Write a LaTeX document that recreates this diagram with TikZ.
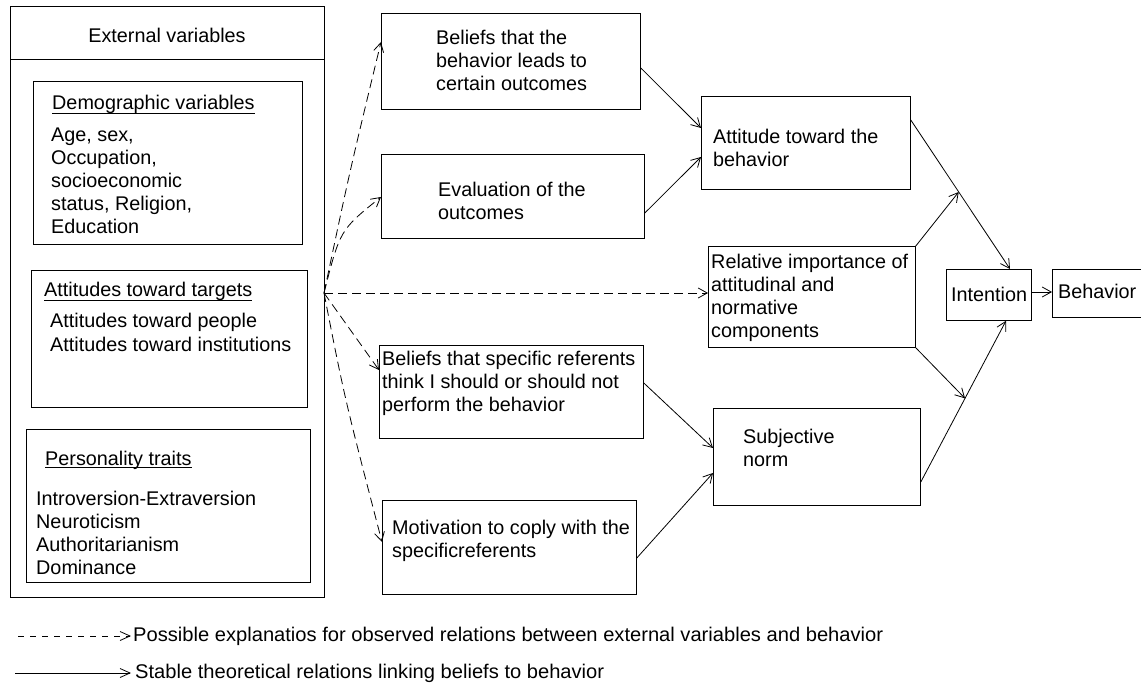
\documentclass[tikz,border=0pt]{standalone}
\usepackage{fontspec}
\setmainfont{Liberation Sans}
\usetikzlibrary{arrows.meta,calc}
\tikzset{
  box/.style={draw, line width=0.8pt, inner sep=0pt, anchor=north west},
  txt/.style={anchor=base west, inner sep=0pt, align=left, font=\fontsize{19.8}{23}\selectfont},
  ln/.style={line width=0.8pt},
  arr/.style={ln, -{Straight Barb[length=9pt,width=10pt]}},
  darr/.style={arr, dash pattern=on 9pt off 5pt},
  uline/.style={line width=0.8pt}
}
\begin{document}
\begin{tikzpicture}[x=1pt,y=-1pt]
\useasboundingbox (0,0) rectangle (1141,684);
\clip (0,0) rectangle (1141,684);
% outer box
\node[box, minimum width=314pt, minimum height=591pt] (outer) at (10,6) {};
\draw[ln] (10,59) -- (324,59);
\node[anchor=base, inner sep=0pt, font=\fontsize{19.8}{23}\selectfont] (extT) at (167,43) {External variables};
% inner boxes
\node[box, minimum width=269pt, minimum height=163pt] (demo) at (33,81) {};
\node[box, minimum width=276pt, minimum height=137pt] (atttar) at (31,270) {};
\node[box, minimum width=284pt, minimum height=153pt] (pers) at (26,429) {};
\node[txt] (demoT) at (52,110) {Demographic variables};
\draw[uline] ([yshift=-3pt]demoT.base west) -- ([yshift=-3pt]demoT.base east);
\node[txt] (demoL) at (51,234) {Age, sex,\\Occupation,\\socioeconomic\\status, Religion,\\Education};
\node[txt] (attT) at (44,297) {Attitudes toward targets};
\draw[uline] ([yshift=-3pt]attT.base west) -- ([yshift=-3pt]attT.base east);
\node[txt, font=\fontsize{19.8}{24}\selectfont] (attL) at (50,352) {Attitudes toward people\\Attitudes toward institutions};
\node[txt] (persT) at (45,465) {Personality traits};
\draw[uline] ([yshift=-2pt]persT.base west) -- ([yshift=-2pt]persT.base east);
\node[txt] (persL) at (36,574) {Introversion-Extraversion\\Neuroticism\\Authoritarianism\\Dominance};
% middle boxes
\node[box, minimum width=259pt, minimum height=96pt] (b1) at (381,13) {};
\node[txt] at (436,91) (b1T) {Beliefs that the\\behavior leads to\\certain outcomes};
\node[box, minimum width=263pt, minimum height=84pt] (ev) at (381,154) {};
\node[txt] at (438,220) (evT) {Evaluation of the\\outcomes};
\node[box, minimum width=264pt, minimum height=93pt] (b2) at (379,345) {};
\node[txt] at (382,412) (b2T) {Beliefs that specific referents\\think I should or should not\\perform the behavior};
\node[box, minimum width=254pt, minimum height=94pt] (mot) at (382,500) {};
\node[txt] at (392,557) (motT) {Motivation to coply with the\\specificreferents};
% right boxes
\node[box, minimum width=209pt, minimum height=93pt] (att) at (701,96) {};
\node[txt] at (713,167) (attbT) {Attitude toward the\\behavior};
\node[box, minimum width=207pt, minimum height=101pt] (rel) at (708,246) {};
\node[txt] at (711,338) (relT) {Relative importance of\\attitudinal and\\normative\\components};
\node[box, minimum width=207pt, minimum height=97pt] (sn) at (713,408) {};
\node[txt] at (743,467) (snT) {Subjective\\norm};
\node[box, minimum width=85pt, minimum height=51pt] (int) at (946,269) {};
\node[txt] at (951,302) (intT) {Intention};
\node[box, minimum width=98pt, minimum height=48pt] (beh) at (1052,269) {};
\node[txt] at (1058,299) (behT) {Behavior};
% dashed connectors
\coordinate (src) at (324,293);
\draw[darr] (src) .. controls (350,170) .. (b1.west |- 0,42);
\draw[darr] (src) .. controls (340,230) .. (ev.west |- 0,197);
\draw[darr] (src) -- (rel.west |- 0,293);
\draw[darr] (src) -- (b2.west |- 0,370);
\draw[darr] (src) .. controls (345,400) .. (mot.west |- 0,542);
% solid connectors
\draw[arr] (b1.east |- 0,68) -- (att.west |- 0,128);
\draw[arr] (ev.east |- 0,213) -- (att.west |- 0,157);
\draw[arr] (b2.east |- 0,383) -- (sn.west |- 0,448);
\draw[arr] (mot.east |- 0,558) -- (sn.west |- 0,473);
\coordinate (a1) at (att.east |- 0,120);
\coordinate (a2) at (int.north -| 1010,0);
\coordinate (m1) at ($(a1)!0.483!(a2)$);
\draw[arr] (a1) -- (a2);
\draw[arr] (rel.north east) -- (m1);
\coordinate (s1) at (sn.east |- 0,482);
\coordinate (s2) at (int.south -| 1006,0);
\coordinate (m2) at ($(s1)!0.519!(s2)$);
\draw[arr] (s1) -- (s2);
\draw[arr] (rel.south east) -- (m2);
\draw[arr] (int.east |- 0,292) -- (beh.west |- 0,292);
% legend
\coordinate (l1s) at (18,636);
\coordinate (l1e) at (131,636);
\draw[ln, dash pattern=on 6pt off 6pt, -{Straight Barb[length=10pt,width=9pt]}] (l1s) -- (l1e);
\node[anchor=west, inner sep=0pt, font=\fontsize{19.8}{23}\selectfont] (leg1) at (133,636) {\resizebox{750pt}{\height}{Possible explanatios for observed relations between external variables and behavior}};
\coordinate (l2s) at (15,673);
\coordinate (l2e) at (131,673);
\draw[ln, -{Straight Barb[length=10pt,width=9pt]}] (l2s) -- (l2e);
\node[anchor=west, inner sep=0pt, font=\fontsize{19.8}{23}\selectfont] (leg2) at (135,673) {\resizebox{469pt}{\height}{Stable theoretical relations linking beliefs to behavior}};
\end{tikzpicture}
\end{document}
